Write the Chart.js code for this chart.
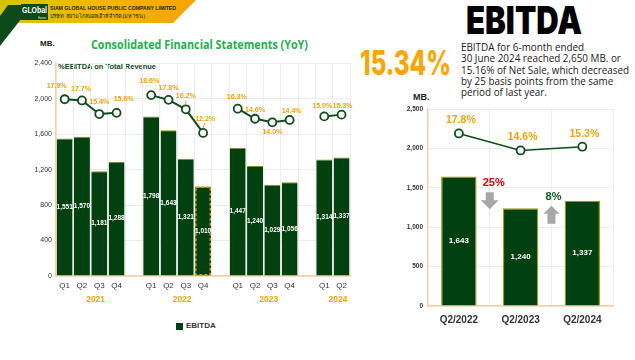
<!DOCTYPE html>
<html><head><meta charset="utf-8">
<script src="https://cdn.jsdelivr.net/npm/chart.js@4.4.1/dist/chart.umd.min.js"></script>
<style>
body{margin:0;width:635px;height:360px;background:#fff;position:relative;overflow:hidden;font-family:'Liberation Sans',Arial,sans-serif;}
.abs{position:absolute;white-space:nowrap;}
.fit{transform-origin:left top;}
</style></head><body>
<svg class="abs" style="left:0;top:0" width="200" height="50">
 <defs><linearGradient id="g" x1="0" x2="1"><stop offset="0" stop-color="#d6c400"/><stop offset="0.5" stop-color="#f2b800"/><stop offset="1" stop-color="#f7a300"/></linearGradient></defs>
 <polygon points="0,0 196,0 173,23 0,23" fill="url(#g)"/>
 <polygon points="8,5 32,5 0,46 0,16" fill="#0d4a1a"/>
 <rect x="21" y="4" width="27" height="16" fill="#0d4a1a"/>
</svg>
<div class="abs fit" data-fit="25" style="left:22px;top:5px;color:#fff;font:bold 9px 'Liberation Sans'">GLObal</div>
<div class="abs fit" data-fit="8" style="left:38px;top:15px;color:#cfe;font:4px 'Liberation Sans'">House</div>
<div class="abs fit" data-fit="126" style="left:50px;top:5px;color:#1a2a12;font:bold 5.5px 'Liberation Sans'">SIAM GLOBAL HOUSE PUBLIC COMPANY LIMITED</div>
<div class="abs fit" data-fit="95" style="left:50px;top:12px;color:#1a2a12;font:5.5px 'Noto Sans','DejaVu Sans',sans-serif">บริษัท สยามโกลบอลเฮ้าส์ จำกัด(มหาชน)</div>

<div class="abs" style="left:40px;top:39px;color:#222;font:bold 8px 'Liberation Sans'">MB.</div>
<div class="abs fit" data-fit="217" style="left:91px;top:37px;color:#1db24b;font:bold 11.5px 'Open Sans','Liberation Sans'">Consolidated Financial Statements (YoY)</div>
<div class="abs fit" data-fit="98" style="left:58px;top:63px;color:#0d4a1a;font:bold 7px 'Liberation Sans'">%EBITDA on Total Revenue</div>

<div class="abs fit" data-fit="116" style="left:466px;top:1px;color:#000;font:900 38px/38px Inter,'Liberation Sans'">EBITDA</div>
<div class="abs fit" data-fit="91" style="left:360px;top:46px;color:#f9a602;font:800 34px/34px Inter,'Liberation Sans'">15.34%</div>
<div class="abs fit" data-fit="168" style="left:461px;top:42px;color:#1a1a1a;font:10px/11.3px 'Open Sans','Liberation Sans'">EBITDA for 6-month ended<br>30 June 2024 reached 2,650 MB. or<br>15.16% of Net Sale, which decreased<br>by 25 basis points from the same<br>period of last year.</div>
<div class="abs" style="left:413px;top:92px;color:#222;font:bold 9px 'Liberation Sans'">MB.</div>

<div class="abs" style="left:176px;top:323px;width:7px;height:7px;background:#01400f"></div>
<div class="abs" style="left:186px;top:321px;color:#333;font:bold 8px 'Liberation Sans'">EBITDA</div>

<div class="abs" style="left:20px;top:55px;width:336px;height:250px"><canvas id="left" width="336" height="250"></canvas></div>
<div class="abs" style="left:392px;top:100px;width:227px;height:230px"><canvas id="right" width="227" height="230"></canvas></div>

<script>
// ---------- data: left chart ----------
const years = ['2021', '2022', '2023', '2024'];
const quarterNames = ['Q1', 'Q2', 'Q3', 'Q4'];
const ebitda2021 = [1551, 1570, 1181, 1288];
const ebitda2022 = [1798, 1643, 1321, 1010];
const ebitda2023 = [1447, 1240, 1029, 1056];
const ebitda2024 = [1314, 1337];
const margin2021 = [17.9, 17.7, 15.4, 15.6];
const margin2022 = [18.6, 17.8, 16.2, 12.2];
const margin2023 = [16.3, 14.6, 14.0, 14.4];
const margin2024 = [15.0, 15.3];
const leftTicks = [0, 400, 800, 1200, 1600, 2000, 2400];
const dashedPeriod = ['2022', 'Q4'];

// ---------- data: right chart ----------
const compareLabels = ['Q2/2022', 'Q2/2023', 'Q2/2024'];
const compareEbitda = [1643, 1240, 1337];
const compareMargin = [17.8, 14.6, 15.3];
const compareChange = ['25%', '8%'];
const rightTicks = [0, 500, 1000, 1500, 2000, 2500];

// fit text widths
document.querySelectorAll('.fit').forEach(el => {
  const w = +el.dataset.fit, a = el.getBoundingClientRect().width;
  if (a > 0) el.style.transform = 'scaleX(' + (w / a) + ')';
});

const GREEN = '#01400f', LINE = '#0f4d1c', ORANGE = '#f5a300', AXIS = '#f9cf9f', GRID = '#ececec';

// build flat category table with gaps between years
const ebitdaByYear = [ebitda2021, ebitda2022, ebitda2023, ebitda2024];
const marginByYear = [margin2021, margin2022, margin2023, margin2024];
const labels = [], barData = [], lineData = [], yearOf = [];
ebitdaByYear.forEach((arr, yi) => {
  if (yi > 0) { labels.push(''); barData.push(null); lineData.push(null); yearOf.push(null); }
  arr.forEach((v, qi) => { labels.push(quarterNames[qi]); barData.push(v); lineData.push(marginByYear[yi][qi]); yearOf.push(yi); });
});
const dashedIndex = labels.findIndex((l, i) => l === dashedPeriod[1] && years[yearOf[i]] === dashedPeriod[0]);

// label placement (style only): offset of each % label from its point, in pixels, in drawing order of points
const pctLabelOffsets = [[-8,-13],[-1,-11],[0,-12],[7,-14], [-2,-14],[0,-12],[0,-13],[2,-14], [-1,-12],[0,-9],[0,10],[2,-9], [-2,-10],[1,-9]];
const leaderLines = [7, 8]; // points whose label has a thin pointer line

const leftPlugin = {
  id: 'leftDeco',
  afterDatasetsDraw(chart) {
    const ctx = chart.ctx;
    const bars = chart.getDatasetMeta(1).data;
    const pts = chart.getDatasetMeta(0).data;
    ctx.save();
    const hb = bars[dashedIndex];
    if (hb) {
      ctx.setLineDash([3, 2]); ctx.strokeStyle = '#d99a14'; ctx.lineWidth = 1.5;
      ctx.strokeRect(hb.x - hb.width / 2 + 0.75, hb.y + 0.75, hb.width - 1.5, hb.base - hb.y - 1.5);
      ctx.setLineDash([]);
    }
    ctx.fillStyle = '#fff'; ctx.font = 'bold 6.5px "Liberation Sans"'; ctx.textAlign = 'center'; ctx.textBaseline = 'middle';
    bars.forEach((b, i) => { if (barData[i] == null) return; ctx.fillText(barData[i].toLocaleString('en-US'), b.x, (b.y + b.base) / 2); });
    ctx.fillStyle = ORANGE; ctx.strokeStyle = ORANGE; ctx.lineWidth = 1; ctx.font = 'bold 7px "Liberation Sans"';
    let k = 0;
    pts.forEach((p, i) => {
      if (lineData[i] == null) return;
      const o = pctLabelOffsets[k] || [0, -11];
      ctx.fillText(lineData[i].toFixed(1) + '%', p.x + o[0], p.y + o[1]);
      if (leaderLines.includes(i)) {
        ctx.beginPath(); ctx.moveTo(p.x + o[0] * 0.8, p.y + o[1] + 4); ctx.lineTo(p.x, p.y - 4.5); ctx.stroke();
      }
      k++;
    });
    ctx.font = 'bold 8.5px "Liberation Sans"';
    const xs = chart.scales.x;
    years.forEach((y, yi) => {
      const idx = yearOf.map((v, i) => v === yi ? i : -1).filter(i => i >= 0);
      const cx = (xs.getPixelForValue(idx[0]) + xs.getPixelForValue(idx[idx.length - 1])) / 2 + 5;
      ctx.fillText(y, cx, chart.chartArea.bottom + 24);
    });
    ctx.restore();
  }
};

new Chart(document.getElementById('left'), {
  data: {
    labels,
    datasets: [
      { type: 'line', label: '%EBITDA', data: lineData, yAxisID: 'y2', borderColor: LINE, borderWidth: 2, pointRadius: 4, pointBorderWidth: 1.8, pointBackgroundColor: '#fff', pointBorderColor: LINE, spanGaps: false, order: 0 },
      { type: 'bar', label: 'EBITDA', data: barData, yAxisID: 'y', backgroundColor: GREEN, borderColor: '#8d8a1c', borderWidth: { top: 1, left: 0, right: 0, bottom: 0 }, borderSkipped: 'bottom', barPercentage: 0.92, categoryPercentage: 1, order: 1 }
    ]
  },
  options: {
    responsive: false, animation: false,
    layout: { padding: { top: 8, right: 2, left: 0, bottom: 0 } },
    plugins: { legend: { display: false }, tooltip: { enabled: false } },
    scales: {
      x: { offset: true, grid: { offset: true, color: GRID, drawTicks: false }, border: { color: AXIS, width: 1.5 },
           ticks: { color: '#333', font: { size: 8, family: 'Liberation Sans' }, padding: 5, autoSkip: false, maxRotation: 0 },
           afterFit(s) { s.height = 29; } },
      y: { min: 0, max: 2400, afterBuildTicks(s) { s.ticks = leftTicks.map(v => ({ value: v })); },
           grid: { color: GRID, drawTicks: false }, border: { color: AXIS, width: 1.5 },
           ticks: { color: '#333', font: { size: 7, family: 'Liberation Sans' }, padding: 4, callback: v => v.toLocaleString('en-US') },
           afterFit(s) { s.width = 36; } },
      y2: { display: false, min: -12, max: 24 }
    }
  },
  plugins: [leftPlugin]
});

const rightPlugin = {
  id: 'rightDeco',
  afterDatasetsDraw(chart) {
    const ctx = chart.ctx;
    const bars = chart.getDatasetMeta(1).data;
    const pts = chart.getDatasetMeta(0).data;
    const ys = chart.scales.y;
    ctx.save();
    ctx.textAlign = 'center'; ctx.textBaseline = 'middle';
    ctx.fillStyle = '#fff'; ctx.font = 'bold 8px "Liberation Sans"';
    bars.forEach((b, i) => ctx.fillText(compareEbitda[i].toLocaleString('en-US'), b.x, (b.y + b.base) / 2));
    ctx.fillStyle = ORANGE; ctx.font = 'bold 10.5px "Liberation Sans"';
    pts.forEach((p, i) => ctx.fillText(compareMargin[i].toFixed(1) + '%', p.x + 2, p.y - 13));
    compareChange.forEach((txt, i) => {
      const x = (bars[i].x + bars[i + 1].x) / 2;
      const down = compareEbitda[i + 1] < compareEbitda[i];
      ctx.fillStyle = '#a6a6a6';
      let top;
      if (down) {
        const tip = ys.getPixelForValue(compareEbitda[i + 1]) + 1;
        top = tip - 17;
        ctx.beginPath();
        ctx.moveTo(x - 4, top); ctx.lineTo(x + 4, top); ctx.lineTo(x + 4, tip - 9); ctx.lineTo(x + 9, tip - 9);
        ctx.lineTo(x, tip); ctx.lineTo(x - 9, tip - 9); ctx.lineTo(x - 4, tip - 9); ctx.closePath(); ctx.fill();
      } else {
        const tip = ys.getPixelForValue(compareEbitda[i + 1]) + 5;
        top = tip;
        const bot = tip + 18;
        ctx.beginPath();
        ctx.moveTo(x, tip); ctx.lineTo(x + 8, tip + 8); ctx.lineTo(x + 4, tip + 8); ctx.lineTo(x + 4, bot);
        ctx.lineTo(x - 4, bot); ctx.lineTo(x - 4, tip + 8); ctx.lineTo(x - 8, tip + 8); ctx.closePath(); ctx.fill();
      }
      ctx.fillStyle = down ? '#e00000' : '#0d5a1e';
      ctx.font = 'bold 11px "Liberation Sans"';
      ctx.fillText(txt, x + (down ? 4 : 2), top - 9);
    });
    ctx.restore();
  }
};

new Chart(document.getElementById('right'), {
  data: {
    labels: compareLabels,
    datasets: [
      { type: 'line', label: '%EBITDA', data: compareMargin, yAxisID: 'y2', borderColor: LINE, borderWidth: 1.5, pointRadius: 4, pointBorderWidth: 1.8, pointBackgroundColor: '#fff', pointBorderColor: LINE, order: 0 },
      { type: 'bar', label: 'EBITDA', data: compareEbitda, yAxisID: 'y', backgroundColor: GREEN, borderColor: '#a89c00', borderWidth: 1.2, barPercentage: 0.575, categoryPercentage: 1, order: 1 }
    ]
  },
  options: {
    responsive: false, animation: false,
    layout: { padding: { top: 9, right: 2, left: 0, bottom: 0 } },
    plugins: { legend: { display: false }, tooltip: { enabled: false } },
    scales: {
      x: { offset: true, grid: { offset: true, color: GRID, drawTicks: false }, border: { color: AXIS, width: 1.5 },
           ticks: { color: '#333', font: { size: 10, weight: 'bold', family: "'Liberation Sans Narrow','Liberation Sans'" }, padding: 8, autoSkip: false, maxRotation: 0 },
           afterFit(s) { s.height = 24; } },
      y: { min: 0, max: 2500, afterBuildTicks(s) { s.ticks = rightTicks.map(v => ({ value: v })); },
           grid: { color: GRID, drawTicks: false }, border: { color: AXIS, width: 1.5 },
           ticks: { color: '#333', font: { size: 6.5, weight: 'bold', family: 'Liberation Sans' }, padding: 5, callback: v => v.toLocaleString('en-US') },
           afterFit(s) { s.width = 36; } },
      y2: { display: false, min: -14.7, max: 22.4 }
    }
  },
  plugins: [rightPlugin]
});
</script>
</body></html>
